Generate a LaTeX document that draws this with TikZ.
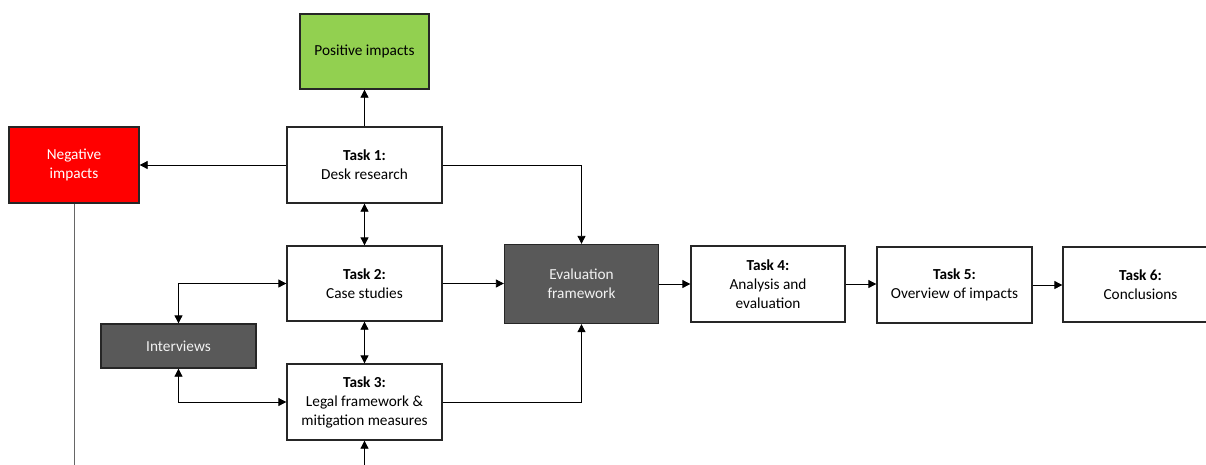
\documentclass[tikz,border=0pt]{standalone}
\usepackage{fontspec}
\setmainfont{Carlito}
\usetikzlibrary{arrows.meta}
\definecolor{posgreen}{HTML}{92D050}
\definecolor{negred}{HTML}{FF0000}
\definecolor{darkbox}{HTML}{595959}
\definecolor{lighttext}{HTML}{F2F2F2}
\definecolor{edge}{HTML}{262626}
\tikzset{
  box/.style={draw=edge, line width=1.3pt, fill=white, align=center, inner sep=0pt,
    font=\fontsize{15.3}{19}\selectfont, text=black},
  posbox/.style={box, fill=posgreen},
  negbox/.style={box, fill=negred, text=white},
  darkbx/.style={box, fill=darkbox, text=lighttext},
  conn/.style={draw=black, line width=0.8pt, -{Triangle[length=8pt,width=8pt]}},
  biconn/.style={draw=black, line width=0.8pt, {Triangle[length=8pt,width=8pt]}-{Triangle[length=8pt,width=8pt]}},
  plain/.style={draw=gray!80!black, line width=0.8pt}
}
\begin{document}
\begin{tikzpicture}[x=1pt,y=-1pt]
\useasboundingbox (0,0) rectangle (1206,464);
\node[posbox, minimum width=129pt, minimum height=75pt] (pos) at (364.5,51.5) {Positive impacts};
\node[negbox, minimum width=130pt, minimum height=76pt] (neg) at (74,165) {Negative\\impacts};
\node[box, minimum width=155pt, minimum height=76pt] (t1) at (364.5,165) {\textbf{Task 1:}\\Desk research};
\node[box, minimum width=155pt, minimum height=75pt] (t2) at (364.5,283.5) {\textbf{Task 2:}\\Case studies};
\node[darkbx, minimum width=155pt, minimum height=44pt] (iv) at (178.5,346) {Interviews};
\node[box, minimum width=155pt, minimum height=76pt] (t3) at (364.5,402) {\textbf{Task 3:}\\Legal framework \&\\mitigation measures};
\node[darkbx, minimum width=154pt, minimum height=79pt] (ev) at (581.5,284) {Evaluation\\framework};
\node[box, minimum width=154pt, minimum height=76pt] (t4) at (768,284) {\textbf{Task 4:}\\Analysis and\\evaluation};
\node[box, minimum width=155pt, minimum height=76pt] (t5) at (954.5,285) {\textbf{Task 5:}\\Overview of impacts};
\node[box, minimum width=155pt, minimum height=75pt] (t6) at (1140.5,284.5) {\textbf{Task 6:}\\Conclusions};
\coordinate (negEnd) at (74,475);
\coordinate (t3In) at (364.5,475);

\draw[conn] (t1.north) -- (pos.south);
\draw[conn] (t1.west) -- (neg.east);
\draw[conn] (t1.east) -| (ev.north);
\draw[biconn] (t1.south) -- (t2.north);
\draw[biconn] (t2.south) -- (t3.north);
\draw[conn] (t2.east) -- (t2.east -| ev.west);
\draw[conn] (t3.east) -| (ev.south);
\draw[biconn] (iv.north) |- (t2.west);
\draw[biconn] (iv.south) |- (t3.west);
\draw[conn] (ev.east) -- (ev.east -| t4.west);
\draw[conn] (t4.east) -- (t4.east -| t5.west);
\draw[conn] (t5.east) -- (t5.east -| t6.west);
\draw[plain] (neg.south) -- (negEnd);
\draw[conn] (t3In) -- (t3.south);
\end{tikzpicture}
\end{document}
